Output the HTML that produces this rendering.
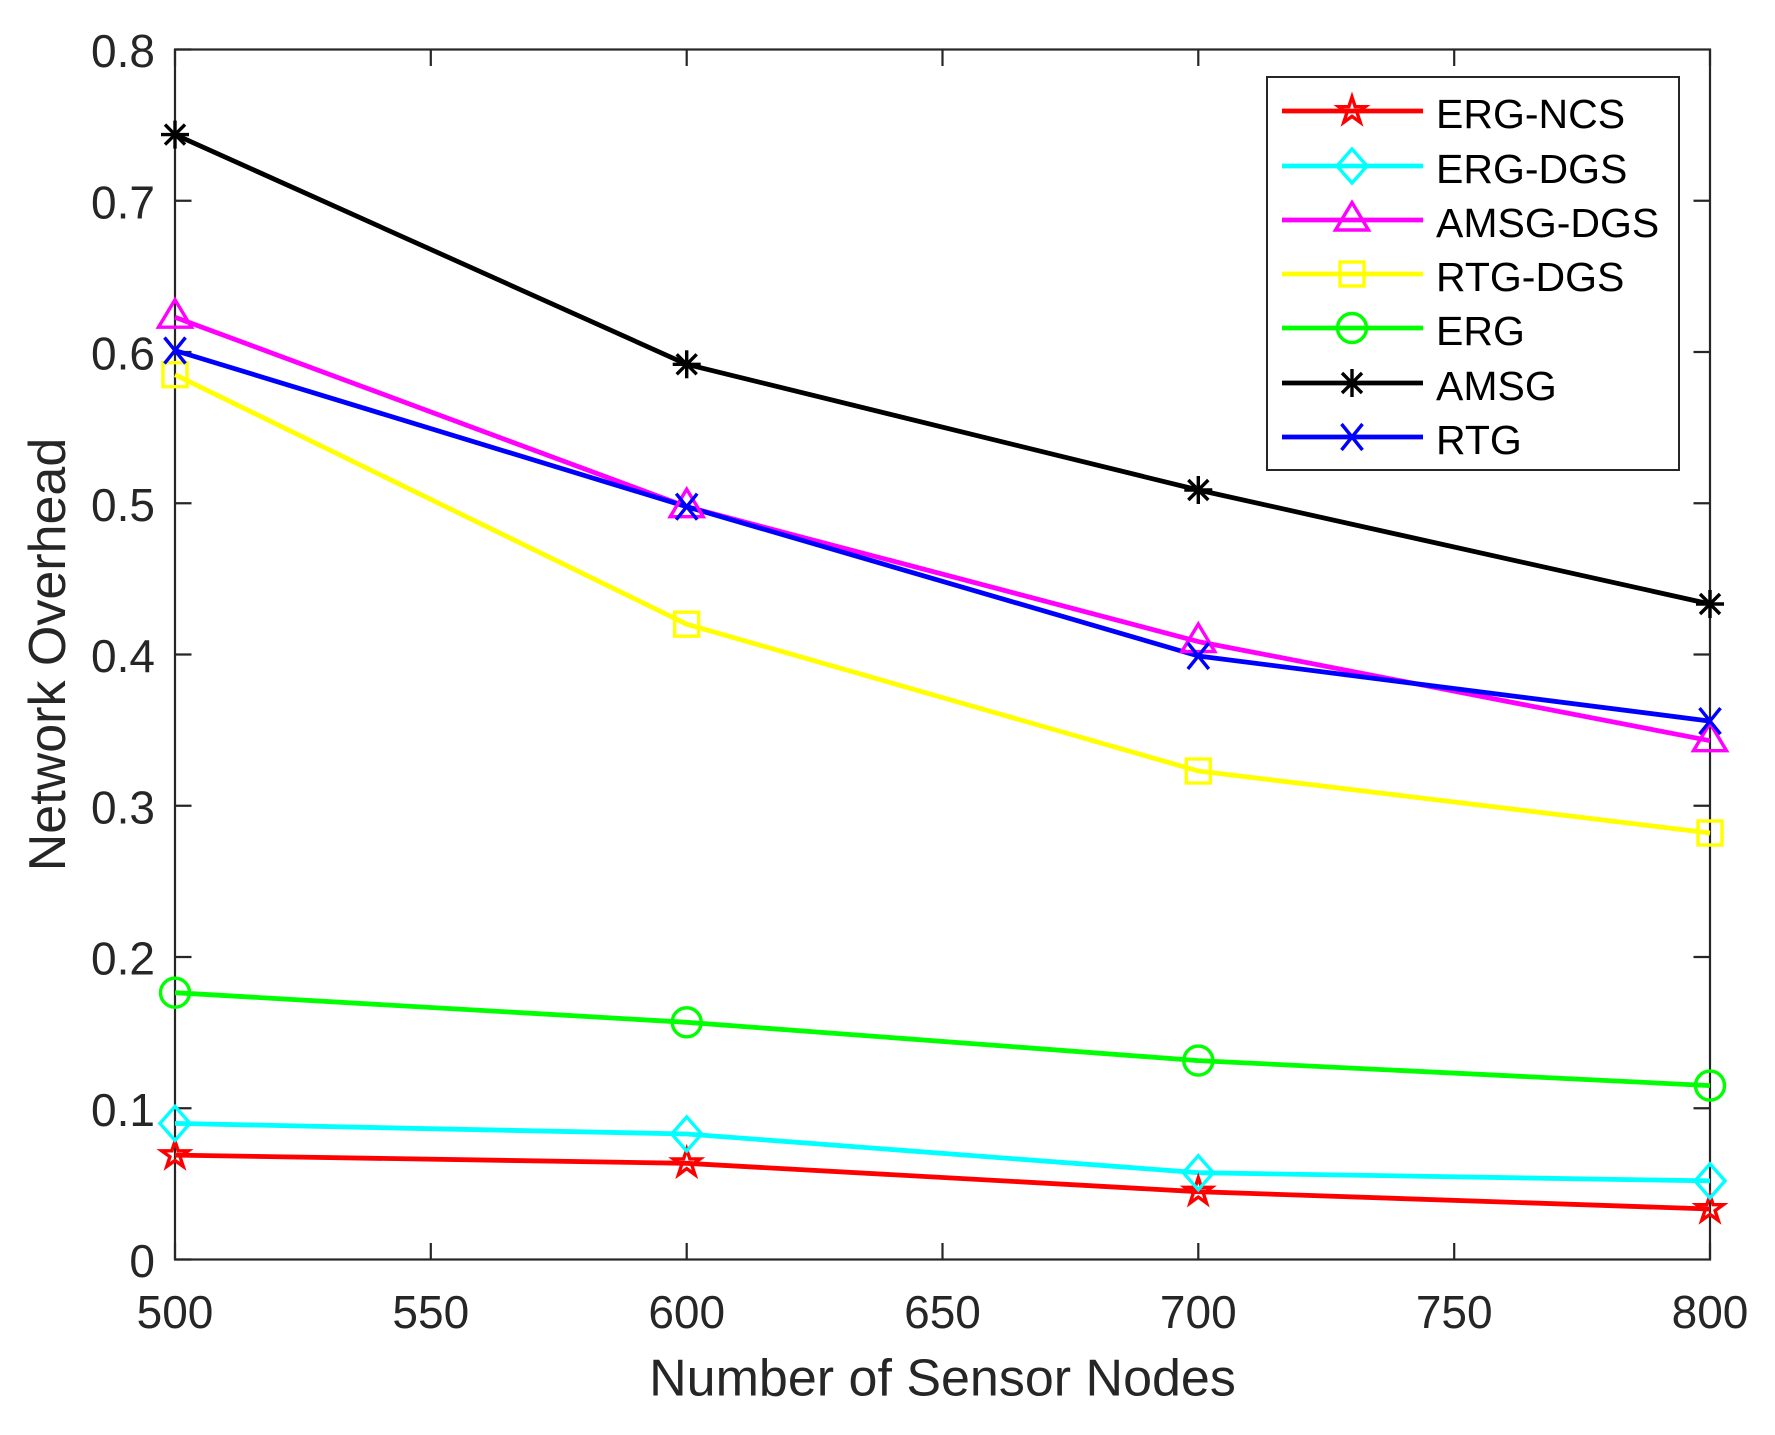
<!DOCTYPE html>
<html>
<head>
<meta charset="utf-8">
<style>
  html, body { margin: 0; padding: 0; background: #ffffff; }
  body { width: 1775px; height: 1435px; overflow: hidden; }
  svg { display: block; }
  text { font-family: "Liberation Sans", Arial, Helvetica, sans-serif; }
</style>
</head>
<body>
<svg width="1775" height="1435" viewBox="0 0 1775 1435" xmlns="http://www.w3.org/2000/svg">
  <defs>
    <g id="mk-star"><polygon points="0,-14 3.15,-4.33 13.31,-4.33 5.09,1.65 8.23,11.33 0,5.35 -8.23,11.33 -5.09,1.65 -13.31,-4.33 -3.15,-4.33" fill="none" stroke="#ff0000" stroke-width="3.4" stroke-linejoin="miter"/></g>
    <g id="mk-diamond"><polygon points="0,-17 15,0 0,17 -15,0" fill="none" stroke="#00ffff" stroke-width="3.4"/></g>
    <g id="mk-tri"><polygon points="0,-17.5 16.5,10 -16.5,10" fill="none" stroke="#ff00ff" stroke-width="3.4"/></g>
    <g id="mk-sq"><rect x="-12" y="-12" width="24" height="24" fill="none" stroke="#ffff00" stroke-width="3.4"/></g>
    <g id="mk-circ"><circle cx="0" cy="0" r="14.5" fill="none" stroke="#00ff00" stroke-width="3.4"/></g>
    <g id="mk-ast" stroke="#000000" stroke-width="3.4"><line x1="0" y1="-14" x2="0" y2="14"/><line x1="-14" y1="0" x2="14" y2="0"/><line x1="-10" y1="-10" x2="10" y2="10"/><line x1="-10" y1="10" x2="10" y2="-10"/></g>
    <g id="mk-x" stroke="#0000ff" stroke-width="3.4"><line x1="-10.5" y1="-13" x2="10.5" y2="13"/><line x1="-10.5" y1="13" x2="10.5" y2="-13"/></g>
  </defs>

  <rect x="0" y="0" width="1775" height="1435" fill="#ffffff"/>

  <!-- Axes box -->
  <rect x="175" y="49.5" width="1535" height="1210" fill="none" stroke="#262626" stroke-width="2.2"/>

  <!-- X ticks -->
  <g stroke="#262626" stroke-width="2.2">
    <line x1="175" y1="1259.5" x2="175" y2="1243"/>
    <line x1="430.8" y1="1259.5" x2="430.8" y2="1243"/>
    <line x1="686.7" y1="1259.5" x2="686.7" y2="1243"/>
    <line x1="942.5" y1="1259.5" x2="942.5" y2="1243"/>
    <line x1="1198.3" y1="1259.5" x2="1198.3" y2="1243"/>
    <line x1="1454.2" y1="1259.5" x2="1454.2" y2="1243"/>
    <line x1="1710" y1="1259.5" x2="1710" y2="1243"/>
    <line x1="175" y1="49.5" x2="175" y2="66"/>
    <line x1="430.8" y1="49.5" x2="430.8" y2="66"/>
    <line x1="686.7" y1="49.5" x2="686.7" y2="66"/>
    <line x1="942.5" y1="49.5" x2="942.5" y2="66"/>
    <line x1="1198.3" y1="49.5" x2="1198.3" y2="66"/>
    <line x1="1454.2" y1="49.5" x2="1454.2" y2="66"/>
    <line x1="1710" y1="49.5" x2="1710" y2="66"/>
    <!-- Y ticks -->
    <line x1="175" y1="1259.5" x2="191.5" y2="1259.5"/>
    <line x1="175" y1="1108.25" x2="191.5" y2="1108.25"/>
    <line x1="175" y1="957" x2="191.5" y2="957"/>
    <line x1="175" y1="805.75" x2="191.5" y2="805.75"/>
    <line x1="175" y1="654.5" x2="191.5" y2="654.5"/>
    <line x1="175" y1="503.25" x2="191.5" y2="503.25"/>
    <line x1="175" y1="352" x2="191.5" y2="352"/>
    <line x1="175" y1="200.75" x2="191.5" y2="200.75"/>
    <line x1="175" y1="49.5" x2="191.5" y2="49.5"/>
    <line x1="1710" y1="1108.25" x2="1693.5" y2="1108.25"/>
    <line x1="1710" y1="957" x2="1693.5" y2="957"/>
    <line x1="1710" y1="805.75" x2="1693.5" y2="805.75"/>
    <line x1="1710" y1="654.5" x2="1693.5" y2="654.5"/>
    <line x1="1710" y1="503.25" x2="1693.5" y2="503.25"/>
    <line x1="1710" y1="352" x2="1693.5" y2="352"/>
    <line x1="1710" y1="200.75" x2="1693.5" y2="200.75"/>
  </g>

  <!-- X tick labels -->
  <g font-size="46" fill="#262626" text-anchor="middle">
    <text x="175" y="1328">500</text>
    <text x="430.8" y="1328">550</text>
    <text x="686.7" y="1328">600</text>
    <text x="942.5" y="1328">650</text>
    <text x="1198.3" y="1328">700</text>
    <text x="1454.2" y="1328">750</text>
    <text x="1710" y="1328">800</text>
  </g>
  <!-- Y tick labels -->
  <g font-size="46" fill="#262626" text-anchor="end">
    <text x="155" y="1277">0</text>
    <text x="155" y="1125.75">0.1</text>
    <text x="155" y="974.5">0.2</text>
    <text x="155" y="823.25">0.3</text>
    <text x="155" y="672">0.4</text>
    <text x="155" y="520.75">0.5</text>
    <text x="155" y="369.5">0.6</text>
    <text x="155" y="218.25">0.7</text>
    <text x="155" y="67">0.8</text>
  </g>

  <!-- Axis labels -->
  <text x="942.5" y="1395.5" font-size="52" fill="#262626" text-anchor="middle">Number of Sensor Nodes</text>
  <text transform="translate(65,654.5) rotate(-90)" font-size="52" fill="#262626" text-anchor="middle">Network Overhead</text>

  <!-- Series -->
  <g fill="none" stroke-width="4.8" stroke-linejoin="round" stroke-linecap="butt">
    <polyline stroke="#ff0000" points="175,1155.1 686.7,1163.3 1198.3,1191.7 1710,1209.0"/>
    <polyline stroke="#00ffff" points="175,1123.4 686.7,1134.0 1198.3,1172.7 1710,1180.9"/>
    <polyline stroke="#ff00ff" points="175,317.2 686.7,506.7 1198.3,641.6 1710,740.7"/>
    <polyline stroke="#ffff00" points="175,374.7 686.7,624.2 1198.3,771.0 1710,833.0"/>
    <polyline stroke="#00ff00" points="175,992.7 686.7,1022.3 1198.3,1060.6 1710,1085.6"/>
    <polyline stroke="#000000" points="175,134.6 686.7,364.3 1198.3,490.0 1710,604.0"/>
    <polyline stroke="#0000ff" points="175,350.5 686.7,506.7 1198.3,656.0 1710,721.1"/>
  </g>

  <!-- Markers -->
  <use href="#mk-star" x="175" y="1155.1"/><use href="#mk-star" x="686.7" y="1163.3"/><use href="#mk-star" x="1198.3" y="1191.7"/><use href="#mk-star" x="1710" y="1209.0"/>
  <use href="#mk-diamond" x="175" y="1123.4"/><use href="#mk-diamond" x="686.7" y="1134.0"/><use href="#mk-diamond" x="1198.3" y="1172.7"/><use href="#mk-diamond" x="1710" y="1180.9"/>
  <use href="#mk-tri" x="175" y="317.2"/><use href="#mk-tri" x="686.7" y="506.7"/><use href="#mk-tri" x="1198.3" y="641.6"/><use href="#mk-tri" x="1710" y="740.7"/>
  <use href="#mk-sq" x="175" y="374.7"/><use href="#mk-sq" x="686.7" y="624.2"/><use href="#mk-sq" x="1198.3" y="771.0"/><use href="#mk-sq" x="1710" y="833.0"/>
  <use href="#mk-circ" x="175" y="992.7"/><use href="#mk-circ" x="686.7" y="1022.3"/><use href="#mk-circ" x="1198.3" y="1060.6"/><use href="#mk-circ" x="1710" y="1085.6"/>
  <use href="#mk-ast" x="175" y="134.6"/><use href="#mk-ast" x="686.7" y="364.3"/><use href="#mk-ast" x="1198.3" y="490.0"/><use href="#mk-ast" x="1710" y="604.0"/>
  <use href="#mk-x" x="175" y="350.5"/><use href="#mk-x" x="686.7" y="506.7"/><use href="#mk-x" x="1198.3" y="656.0"/><use href="#mk-x" x="1710" y="721.1"/>

  <!-- Legend -->
  <rect x="1267" y="77" width="412" height="393" fill="#ffffff" stroke="#262626" stroke-width="2"/>
  <g stroke-width="4.8">
    <line x1="1282" y1="111" x2="1423" y2="111" stroke="#ff0000"/>
    <line x1="1282" y1="166" x2="1423" y2="166" stroke="#00ffff"/>
    <line x1="1282" y1="220" x2="1423" y2="220" stroke="#ff00ff"/>
    <line x1="1282" y1="274" x2="1423" y2="274" stroke="#ffff00"/>
    <line x1="1282" y1="328" x2="1423" y2="328" stroke="#00ff00"/>
    <line x1="1282" y1="383" x2="1423" y2="383" stroke="#000000"/>
    <line x1="1282" y1="437" x2="1423" y2="437" stroke="#0000ff"/>
  </g>
  <use href="#mk-star" x="1352" y="111"/>
  <use href="#mk-diamond" x="1352" y="166"/>
  <use href="#mk-tri" x="1352" y="220"/>
  <use href="#mk-sq" x="1352" y="274"/>
  <use href="#mk-circ" x="1352" y="328"/>
  <use href="#mk-ast" x="1352" y="383"/>
  <use href="#mk-x" x="1352" y="437"/>
  <g font-size="41" fill="#000000">
    <text x="1436" y="128">ERG-NCS</text>
    <text x="1436" y="183">ERG-DGS</text>
    <text x="1436" y="237">AMSG-DGS</text>
    <text x="1436" y="291">RTG-DGS</text>
    <text x="1436" y="345">ERG</text>
    <text x="1436" y="400">AMSG</text>
    <text x="1436" y="454">RTG</text>
  </g>
</svg>
</body>
</html>
